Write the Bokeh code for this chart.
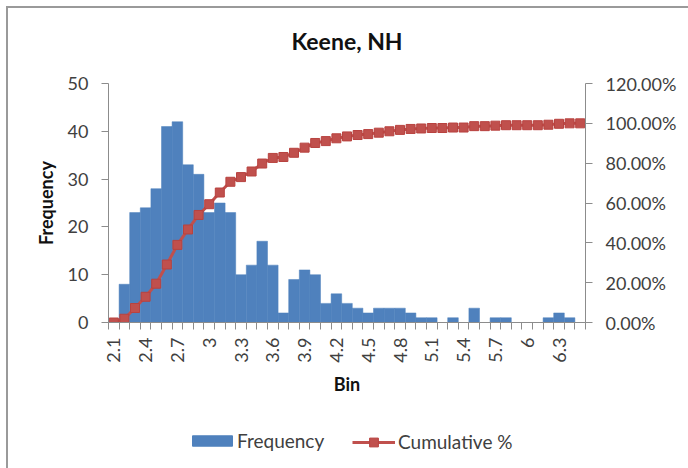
import math
from bokeh.plotting import figure
from bokeh.layouts import column
from bokeh.models import (Range1d, LinearAxis, FixedTicker, PrintfTickFormatter,
                          CustomJSTickFormatter, Legend, LegendItem, ColumnDataSource,
                          Label)
from bokeh.embed import file_html
from bokeh.resources import INLINE

# ---- data ----
chart_title = "Keene, NH"
bins = [2.1, 2.2, 2.3, 2.4, 2.5, 2.6, 2.7, 2.8, 2.9, 3.0,
        3.1, 3.2, 3.3, 3.4, 3.5, 3.6, 3.7, 3.8, 3.9, 4.0,
        4.1, 4.2, 4.3, 4.4, 4.5, 4.6, 4.7, 4.8, 4.9, 5.0,
        5.1, 5.2, 5.3, 5.4, 5.5, 5.6, 5.7, 5.8, 5.9, 6.0,
        6.1, 6.2, 6.3, 6.4, 6.5]
frequency = [0, 8, 23, 24, 28, 41, 42, 33, 31, 23,
             25, 23, 10, 12, 17, 12, 2, 9, 11, 10,
             4, 6, 4, 3, 2, 3, 3, 3, 2, 1,
             1, 0, 1, 0, 3, 0, 1, 1, 0, 0,
             0, 1, 2, 1, 0]
cumulative_pct = [0.00, 1.88, 7.28, 12.91, 19.48, 29.11, 38.97, 46.71, 53.99, 59.39,
                  65.26, 70.66, 73.00, 75.82, 79.81, 82.63, 83.10, 85.21, 87.79, 90.14,
                  91.08, 92.49, 93.43, 94.13, 94.60, 95.31, 96.01, 96.71, 97.18, 97.42,
                  97.65, 97.65, 97.89, 97.89, 98.59, 98.59, 98.83, 99.06, 99.06, 99.06,
                  99.06, 99.30, 99.77, 100.00, 100.00]
x_tick_values = [2.1, 2.4, 2.7, 3.0, 3.3, 3.6, 3.9, 4.2, 4.5, 4.8, 5.1, 5.4, 5.7, 6.0, 6.3]
freq_ticks = [0, 10, 20, 30, 40, 50]
pct_ticks = [0, 20, 40, 60, 80, 100, 120]

FONT = "Lato"
BLUE = "#4F81BD"
RED = "#C0504D"
AXIS_GREY = "#8c8c8c"
TEXT_GREY = "#404040"

src = ColumnDataSource(dict(bin=bins, freq=frequency, cum=cumulative_pct))

# ---- title strip ----
tf = figure(width=680, height=63, output_backend="svg", toolbar_location=None,
            x_range=Range1d(0, 1), y_range=Range1d(0, 1), min_border=0,
            outline_line_color=None)
tf.axis.visible = False
tf.grid.visible = False
tf.add_layout(Label(x=0.5, y=0.49, text=chart_title, text_align="center",
                    text_baseline="middle", text_font=FONT, text_font_size="23px",
                    text_font_style="bold", text_color="#111111"))

# ---- main chart ----
p = figure(width=680, height=349, output_backend="svg", toolbar_location=None,
           x_range=Range1d(2.05, 6.55), y_range=Range1d(0, 50),
           min_border_left=100, min_border_right=103, min_border_top=12,
           min_border_bottom=98)
p.outline_line_color = None
p.grid.visible = False
p.background_fill_color = "white"
p.border_fill_color = "white"

p.extra_y_ranges = {"pct": Range1d(0, 120)}

bars = p.vbar(x="bin", top="freq", width=0.1, source=src, fill_color=BLUE,
              line_color=BLUE, line_width=0.5)
line = p.line(x="bin", y="cum", source=src, y_range_name="pct", line_color=RED,
              line_width=3)
pts = p.scatter(x="bin", y="cum", source=src, y_range_name="pct", marker="square",
                size=9, fill_color=RED, line_color="#b8423f")

# x axis
xa = p.xaxis[0]
xa.ticker = FixedTicker(ticks=x_tick_values,
                        minor_ticks=[round(2.05 + 0.1 * k, 2) for k in range(46)])
xa.formatter = CustomJSTickFormatter(code="return (Math.round(tick*10)/10).toString();")
xa.major_label_orientation = math.pi / 2
xa.major_tick_out = 0
xa.major_tick_in = 0
xa.minor_tick_out = 7
xa.minor_tick_in = 0
xa.major_label_standoff = 8
xa.axis_label = "Bin"
xa.axis_label_standoff = 7

# left axis
ya = p.yaxis[0]
ya.ticker = FixedTicker(ticks=freq_ticks)
ya.axis_label = "Frequency"
ya.major_tick_out = 7
ya.major_tick_in = 0
ya.minor_tick_out = 0
ya.minor_tick_in = 0
ya.major_label_standoff = 13
ya.axis_label_standoff = 8

ra = LinearAxis(y_range_name="pct", ticker=FixedTicker(ticks=pct_ticks),
                formatter=PrintfTickFormatter(format="%.2f%%"))
ra.major_tick_out = 7
ra.major_tick_in = 0
ra.minor_tick_out = 0
ra.minor_tick_in = 0
ra.major_label_standoff = 13
p.add_layout(ra, "right")

for ax in [xa, ya, ra]:
    ax.axis_line_color = AXIS_GREY
    ax.major_tick_line_color = AXIS_GREY
    ax.minor_tick_line_color = AXIS_GREY
    ax.major_label_text_font = FONT
    ax.major_label_text_font_size = "18px"
    ax.major_label_text_color = TEXT_GREY
    ax.axis_label_text_font = FONT
    ax.axis_label_text_font_size = "18px"
    ax.axis_label_text_font_style = "bold"
    ax.axis_label_text_color = "#111111"

# ---- legend strip (its own small figure, below the chart) ----
lf = figure(width=680, height=48, output_backend="svg", toolbar_location=None,
            x_range=Range1d(0, 1), y_range=Range1d(0, 1),
            min_border=0, outline_line_color=None)
lf.axis.visible = False
lf.grid.visible = False
lf.border_fill_color = "white"
# same series, hidden here: they only supply the legend samples
lf_bar = lf.vbar(x="bin", top="freq", width=0.1, source=src, fill_color=BLUE,
                 line_color=BLUE, visible=False)
lf_line = lf.line(x="bin", y="cum", source=src, line_color=RED, line_width=3,
                  visible=False)
lf_pts = lf.scatter(x="bin", y="cum", source=src, marker="square", size=9,
                    fill_color=RED, line_color="#b8423f", visible=False)

common = dict(orientation="horizontal", label_text_font=FONT,
              label_text_font_size="19px", label_text_color=TEXT_GREY,
              border_line_color=None, background_fill_alpha=0, margin=0,
              padding=0, inactive_fill_alpha=0)
leg1 = Legend(items=[LegendItem(label="Frequency", renderers=[lf_bar])],
              location=(79, 16), glyph_width=50, glyph_height=13,
              label_standoff=0, **common)
leg2 = Legend(items=[LegendItem(label="Cumulative %", renderers=[lf_line, lf_pts])],
              location=(244, 15), glyph_width=43, glyph_height=22,
              label_standoff=3, **common)
lf.add_layout(leg1)
lf.add_layout(leg2)

page = column(tf, p, lf, spacing=0,
              styles={"border-left": "2px solid #9a9a9a", "border-top": "2px solid #9a9a9a",
                      "margin-left": "6px", "margin-top": "6px"})

open("out.html", "w").write(file_html(page, INLINE))
